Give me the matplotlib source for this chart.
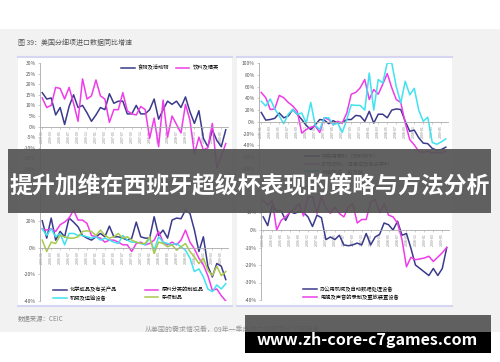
import matplotlib.pyplot as plt
from matplotlib.patches import Rectangle

plt.rcParams['font.family'] = ['Noto Sans CJK SC', 'DejaVu Sans']

# monthly x axis, 2006-01 .. 2009-06
months = [f"{y}-{m:02d}" for y in range(2006, 2010) for m in range(1, 13)][:42]

# top-left: 食物及活动物 / 饮料及烟类
food = [16, 13, 13.5, 5.5, 9, 1, 9.5, 15, 9, 10, 6.5, 2.5, 5.5, 9, 8, 15.5, 11, 12, 12, 6,
        6, 10, 6, 6, 8, 13, 3.5, 8, 12, 10.5, 12, 9, 14, 7, 1.5, 7.5, -5.5, -9.5, -1.5, -6.5,
        -9.5, -1.5]
drink = [13.5, 9, 10, 18.5, 18, 13, 18.5, 11, 2.5, 22.5, 13, 14.5, 22, 14.5, 13, 2, 8, 8, 16, 7.5,
         6, 5.5, 9.5, 8, -5.5, 4, -9.5, 12.5, -5, 5, 1, -3, 10.5, 3, -13, -5, -11, -10, 1.5, -19.5,
         -14, -8]

# top-right: 非食用原料 / 矿物燃料 / 动植物油
crude = [16, 3, 4, 6, 15, 7, 10, 21, 13, 4, -6, -13, -5, 4, 3, -3, 2, -2, -1, 4,
         4, 11, 10, 1, 18, -2, 13, 13, 7, 20, 22, 21, 1, -16, -14, -27, -36, -37, -45, -48,
         -47, -43]
fuel = [50, 41, 21, 22, 45, 41, 33, 27, 18, -19, -13, -9, -7, -18, 7, 4, -5, 1, -2, 15,
        47, 50, 58, 72, 38, 55, 47, 64, 82, 58, 38, 33, -2, -30, -39, -50, -52, -50, -53, -52,
        -53, -50]
oil = [35, 27, 39, 22, 10, -3, 13, 21, 13, 15, -2, 33, -6, -13, 7, 7, -5, -2, -18, 4,
       29, 28, 28, 20, 83, 20, 72, 66, 100, 100, 60, 32, 69, 46, 57, 20, 1, 8, -35, -38,
       -34, -29]

# bottom-left
chem = [20, 7, 22, 5.5, 12, 8, 22, 19, 15.5, 9, 7, 5.5, 8, 10.5, 8, 16, 8, 8, 7, 5.5,
        7, 19, 8, 7, 7, 23, 9, 13, 7, 20.5, 22, 21.5, 28, 25.5, 13, -3, 8, -14, -22, -12,
        -14, -24]
goods = [14, 13, 14, 12, 17, 19, 22, 28, 20.5, 20.5, 18, 9, 8, 7, 4, 5.5, 5.5, 4, 2, 2,
         -3, 3, 4, 2, 3, 5.5, 12, 4, 2, 4, 2, 5.5, 13, 4, -1, -8, -13, -21, -32, -31,
         -36, -40]
mach = [14, 9, 14, 8, 10.5, 2, 10.5, 10.5, 9, 9, 8, 7, 8, 5.5, 7, 5.5, 4, 3, 9, 5.5,
        4, 4, 3, 2, 7, -2, 8, 4, 3, 2, 3, 0.5, -2, -8, -18, -16, -22, -31, -33, -28,
        -31, -27]
misc = [5.5, -3, 4, 3, 9, 8, 7, 7, 8, 12, 12.5, 12, 9, 13, 9, 7, 8, 10.5, 7, 8,
        5.5, 4, 3, 3, 8, -4.5, 4, 3, 0.5, 2, -2, 0.5, 3, -3, -7, -12, -8, -17, -21, -14,
        -21, -18]

# bottom-right
office = [7.5, 2.5, 14, 11, 11, 5.5, 10.5, 9.5, 10.5, 10, 7.5, 2, 8.5, 7, -5.5, -4, -5.5, -3, -8.5, -9,
          -8.5, -7.5, -8.5, -2, -8.5, -4, -2.5, 4, 3, 0, 5, -3, -2, -10.5, -20, -22, -24, -26, -22, -26,
          -22, -10]
tv = [17, 14, 17, 0, 5.5, 7.5, 10.3, 12, 15, 8, 19, 19, 9.5, 19, 12.5, 9.5, 13, 9.5, 7.5, 13,
      15, 4, 6, 6, 16, 17.5, 10, 15, 8.5, 7.5, 4, -5.5, -21, -15.6, -17, -16.5, -16, -15, -18, -15.5,
      -13, -10]

NAVY = '#3a3a8c'
MAG = '#ee3ce8'
CYAN = '#40e2f0'
GREEN = '#a9c94c'

W, H = 500, 362
fig = plt.figure(figsize=(5, 3.62), dpi=100)

bg = fig.add_axes([0, 0, 1, 1])
bg.set_xlim(0, W)
bg.set_ylim(H, 0)
bg.axis('off')
bg.add_patch(Rectangle((0, 29), W, 303, color='#f2f2f2', lw=0))
for x0, y0, x1, y1 in [(18, 56, 232, 182), (237, 56, 452, 182), (18, 185, 232, 307), (237, 185, 452, 307)]:
    bg.add_patch(Rectangle((x0, y0), x1 - x0, y1 - y0, color='white', lw=0))
    bg.plot([x0, x1], [y0 + 1, y0 + 1], color='#d6d6f2', lw=1.5)
    bg.plot([x0, x1], [y1 - 1, y1 - 1], color='#d6d6f2', lw=1.5)
bg.text(18, 43, '图 39：美国分细项进口数据同比增速', fontsize=5, color='#555555', va='center')
bg.text(18, 319, '数据来源：CEIC', fontsize=4.6, color='#888888', va='center')
bg.text(145, 330, '从美国的需求情况看，09年一季度进口总额同比下降明显', fontsize=5, color='#999999', va='center')


def add_ax(x0, y0, x1, y1):
    return fig.add_axes([x0 / W, 1 - y1 / H, (x1 - x0) / W, (y1 - y0) / H])


def style(ax, lo, hi, step, hide_top=False):
    ax.set_xlim(-0.5, 41.5)
    ax.set_ylim(lo, hi)
    ax.set_facecolor('none')
    ax.spines['top'].set_visible(False)
    ax.spines['right'].set_visible(False)
    ax.spines['bottom'].set_position(('data', 0))
    for s in ['left', 'bottom']:
        ax.spines[s].set_color('#aaaaaa')
        ax.spines[s].set_linewidth(0.6)
    ax.set_xticks(range(0, 42, 2))
    ax.set_xticklabels(months[::2], rotation=90, fontsize=2.6, color='#888888')
    ticks = list(range(lo, hi + 1, step))
    if hide_top:
        # top label sits under the banner
        ticks = ticks[:-1]
    ax.set_yticks(ticks)
    ax.set_yticklabels([f'{t}%' for t in ticks], fontsize=3.6, color='#555555')
    ax.tick_params(axis='x', length=1.5, width=0.4, pad=0.8, color='#aaaaaa')
    ax.tick_params(axis='y', length=1.5, width=0.4, pad=1.5, color='#aaaaaa')


def leg(ax, handles, labels, x, y, ncol=1, cs=1.0):
    ax.legend(handles, labels, loc='center left', bbox_to_anchor=(x / W, 1 - y / H),
              bbox_transform=fig.transFigure, ncol=ncol, frameon=False, fontsize=3.8,
              handlelength=2.6, handletextpad=0.6, columnspacing=cs, labelspacing=0.45,
              borderaxespad=0, borderpad=0)


xs = range(42)
lw = 1.1

ax1 = add_ax(40, 63, 228, 169)
style(ax1, -20, 30, 5)
h1, = ax1.plot(xs, food, color=NAVY, lw=lw)
h2, = ax1.plot(xs, drink, color=MAG, lw=lw)
leg(ax1, [h1, h2], ['食物及活动物', '饮料及烟类'], 121, 68, ncol=2, cs=1.2)

ax2 = add_ax(259, 63, 448, 169)
style(ax2, -80, 100, 20)
h1, = ax2.plot(xs, crude, color=NAVY, lw=lw)
h2, = ax2.plot(xs, fuel, color=MAG, lw=lw)
h3, = ax2.plot(xs, oil, color=CYAN, lw=lw)
leg(ax2, [h1, h2, h3], ['非食用原料（燃料除外）', '矿物燃料、润滑油及有关原料', '动植物油、脂及蜡'], 305, 164)

ax3 = add_ax(40, 194, 228, 301)
style(ax3, -40, 40, 20, hide_top=True)
h1, = ax3.plot(xs, chem, color=NAVY, lw=lw)
h2, = ax3.plot(xs, goods, color=MAG, lw=lw)
h3, = ax3.plot(xs, mach, color=CYAN, lw=lw)
h4, = ax3.plot(xs, misc, color=GREEN, lw=lw)
leg(ax3, [h1, h3, h2, h4], ['化学成品及有关产品', '机械及运输设备', '原料分类的制成品', '杂项制品'],
    53, 294, ncol=2, cs=5.2)

ax4 = add_ax(261, 195, 449, 300)
style(ax4, -40, 20, 10, hide_top=True)
h1, = ax4.plot(xs, office, color=NAVY, lw=lw)
h2, = ax4.plot(xs, tv, color=MAG, lw=lw)
leg(ax4, [h1, h2], ['办公用机械及自动数据处理设备', '电视及声音的录制及重放装置设备'], 303, 293)

ov = fig.add_axes([0, 0, 1, 1])
ov.set_zorder(10)
ov.set_xlim(0, W)
ov.set_ylim(H, 0)
ov.axis('off')
ov.add_patch(Rectangle((8, 149), 483, 64, color='#555555', alpha=0.93, lw=0))
ov.text(249.5, 187, '提升加维在西班牙超级杯表现的策略与方法分析', fontsize=16.5, color='white',
        fontweight='bold', ha='center', va='center')
ov.add_patch(Rectangle((0, 332), W, 30, color='white', lw=0))
ov.add_patch(Rectangle((245, 315), 246, 17, color='#555555', alpha=0.93, lw=0))
ov.add_patch(Rectangle((245, 332), 246, 21, color='black', lw=0))
ov.text(367, 340, 'www.zh-core-c7games.com', fontsize=11.6, color='white', fontweight='bold',
        ha='center', va='center')

fig.savefig('out.png', dpi=100)
